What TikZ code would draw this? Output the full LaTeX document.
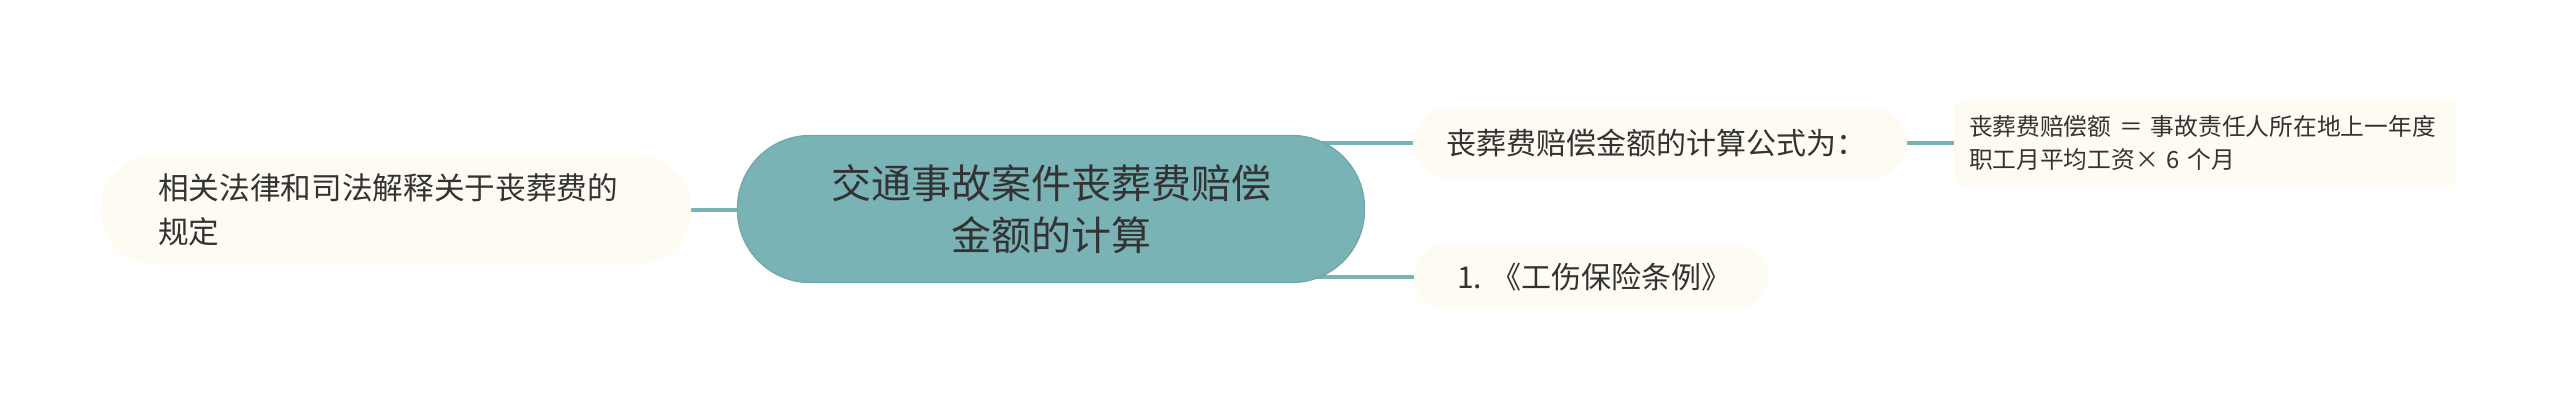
\documentclass[tikz,border=0pt]{standalone}
\usepackage{fontspec}
\setmainfont{Noto Sans CJK SC}
\usetikzlibrary{backgrounds}
\definecolor{teal1}{HTML}{7AB3B5}
\definecolor{tealdark}{HTML}{6FA8AB}
\definecolor{cream}{HTML}{FDFBF2}
\definecolor{txt}{HTML}{333333}
\tikzset{
  central/.style={draw=tealdark, line width=1pt, fill=teal1, rounded corners=54.5pt, text=txt,
    minimum width=627*0.75pt, minimum height=147*0.75pt, align=center, inner sep=0pt,
    font=\fontsize{30}{39}\selectfont},
  pill/.style={fill=cream, text=txt, inner sep=0pt, align=left},
  conn/.style={draw=teal1, line width=2.6pt},
}
\begin{document}
\begin{tikzpicture}[x=0.75pt,y=-0.75pt]
\useasboundingbox (0,0) rectangle (2560,413);
\node[central, text width=560*0.75pt] (c) at (1051,209) {交通事故案件丧葬费赔偿\\金额的计算};
\node[pill, rounded corners=40pt, minimum width=590*0.75pt, minimum height=109*0.75pt,
  text width=476*0.75pt, font=\fontsize{23}{33}\selectfont] (l) at (396,210)
  {相关法律和司法解释关于丧葬费的\\规定};
\node[pill, rounded corners=25pt, minimum width=493*0.75pt, minimum height=69*0.75pt,
  text width=427*0.75pt, font=\fontsize{22.5}{30}\selectfont] (rt) at (1660,143)
  {丧葬费赔偿金额的计算公式为：};
\node[pill, rounded corners=23.5pt, minimum width=354*0.75pt, minimum height=64*0.75pt,
  text width=268*0.75pt, font=\fontsize{22.5}{30}\selectfont] (rb) at (1591,277)
  {\makebox[268\dimexpr0.75pt\relax][l]{1.~《工伤保险条例》}};
\node[pill, rounded corners=7pt, minimum width=502*0.75pt, minimum height=85*0.75pt,
  text width=472*0.75pt, font=\fontsize{17.8}{25}\selectfont] (f) at (2205,143)
  {丧葬费赔偿额 ＝ 事故责任人所在地上一年度\\职工月平均工资× 6 个月};
\begin{scope}[on background layer]
\fill[white] (0,0) rectangle (2560,413);
\draw[conn] (c.center |- l.east) -- (l.east);
\draw[conn] (c.center |- rt.west) -- (rt.west);
\draw[conn] (c.center |- rb.west) -- (rb.west);
\draw[conn] (rt.east) -- (f.west);
\end{scope}
\end{tikzpicture}
\end{document}
